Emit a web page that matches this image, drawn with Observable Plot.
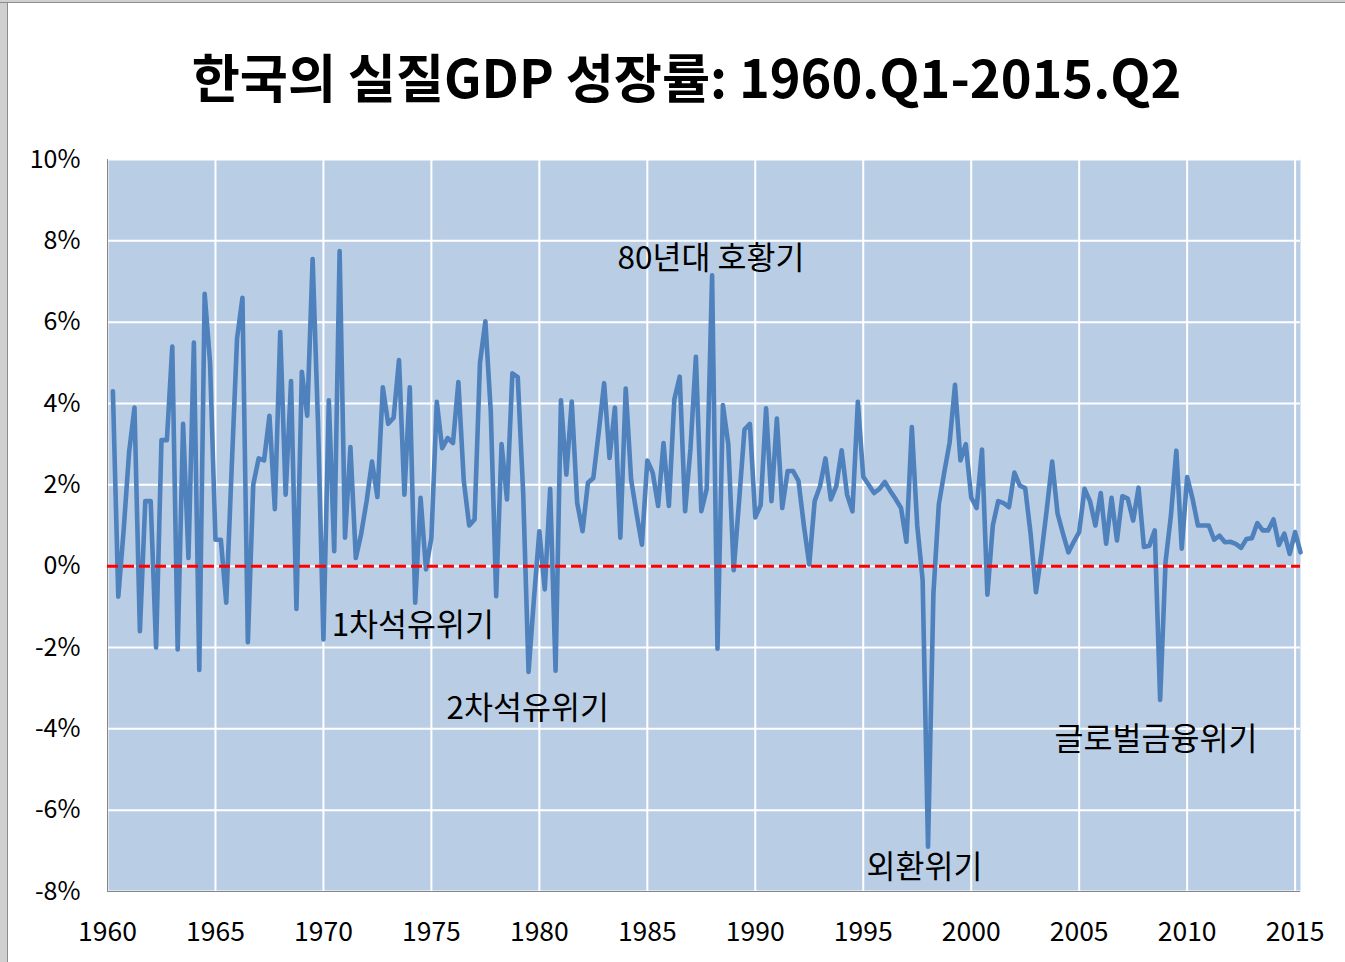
<!DOCTYPE html>
<html>
<head>
<meta charset="utf-8">
<script src="https://cdn.jsdelivr.net/npm/d3@7"></script>
<script src="https://cdn.jsdelivr.net/npm/@observablehq/plot@0.6"></script>
<style>
  html, body { margin: 0; padding: 0; background: #ffffff; }
  #wrap { position: relative; width: 1345px; height: 962px; overflow: hidden; background: #ffffff;
          font-family: "Noto Sans CJK KR", "Noto Sans", sans-serif; }
  #edgeL { position: absolute; left: 0; top: 0; width: 7px; height: 962px; background: #d0d0d0; border-right: 1px solid #8c8c8c; }
  #edgeT { position: absolute; left: 0; top: 0; width: 1345px; height: 2px; background: #d0d0d0; border-bottom: 1px solid #8c8c8c; }
  #title { position: absolute; left: 0; top: 49px; width: 1345px; padding-left: 28px; box-sizing: border-box;
           text-align: center; font-weight: 700; font-size: 52.3px; line-height: 1; color: #000; }
  #chart { position: absolute; left: 0; top: 130px; }
</style>
</head>
<body>
<div id="wrap">
  <div id="edgeL"></div>
  <div id="edgeT"></div>
  <div id="title">한국의 실질GDP 성장률: 1960.Q1-2015.Q2</div>
  <div id="chart"></div>
</div>
<script>
// Quarter-on-quarter real GDP growth (%), read from the reference chart
// 1960.Q2 – 1969.Q4
const g1960s = [4.3, -0.75, 0.9, 2.8, 3.9, -1.6, 1.6, 1.6, -2.0, 3.1, 3.1, 5.4, -2.05, 3.5, 0.2, 5.5, -2.55, 6.7, 5.0,
  0.65, 0.65, -0.9, 2.4, 5.6, 6.6, -1.87, 2.0, 2.65, 2.6, 3.7, 1.4, 5.76, 1.76, 4.55, -1.05, 4.78, 3.7, 7.55, 3.5];
// 1970.Q1 – 1979.Q4
const g1970s = [-1.8, 4.08, 0.37, 7.75, 0.7, 2.93, 0.2, 0.8, 1.6, 2.57, 1.7, 4.4, 3.5, 3.65, 5.07, 1.76, 4.4, -0.9, 1.68, -0.08,
  0.7, 4.04, 2.9, 3.15, 3.03, 4.53, 2.1, 1.0, 1.15, 5.0, 6.02, 3.8, -0.74, 3.0, 1.64, 4.74, 4.65, 1.8, -2.6, -0.8];
// 1980.Q1 – 1989.Q4
const g1980s = [0.86, -0.57, 1.9, -2.57, 4.08, 2.25, 4.05, 1.56, 0.86, 2.05, 2.17, 3.3, 4.5, 2.66, 3.9, 0.7, 4.37, 2.13, 1.3, 0.53,
  2.6, 2.3, 1.48, 3.03, 1.48, 4.1, 4.66, 1.35, 2.9, 5.15, 1.35, 1.9, 7.15, -2.03, 3.96, 3.0, -0.1, 1.6, 3.36, 3.5];
// 1990.Q1 – 1999.Q4
const g1990s = [1.2, 1.5, 3.88, 1.6, 3.63, 1.43, 2.34, 2.34, 2.1, 1.0, 0.04, 1.6, 1.97, 2.65, 1.64, 1.97, 2.85, 1.76, 1.35, 4.04,
  2.2, 2.0, 1.8, 1.9, 2.07, 1.85, 1.65, 1.43, 0.6, 3.42, 1.0, -0.34, -6.9, -0.67, 1.52, 2.3, 3.04, 4.46, 2.6, 3.0];
// 2000.Q1 – 2009.Q4
const g2000s = [1.69, 1.43, 2.87, -0.7, 1.0, 1.6, 1.55, 1.45, 2.3, 1.98, 1.92, 0.8, -0.64, 0.3, 1.4, 2.57, 1.29, 0.8, 0.34, 0.6,
  0.84, 1.9, 1.6, 1.0, 1.8, 0.55, 1.68, 0.63, 1.72, 1.66, 1.12, 1.93, 0.47, 0.5, 0.88, -3.29, 0.1, 1.25, 2.84, 0.43];
// 2010.Q1 – 2015.Q2
const g2010s = [2.19, 1.66, 1.0, 1.0, 1.0, 0.65, 0.75, 0.59, 0.6, 0.55, 0.45, 0.67, 0.69, 1.06, 0.88, 0.88, 1.15, 0.52, 0.8, 0.3,
  0.84, 0.34];

const startYear = 1960;          // series begins with 1960.Q2
const endT = 2015.25;            // 2015.Q2
const yearTicks = [1960, 1965, 1970, 1975, 1980, 1985, 1990, 1995, 2000, 2005, 2010, 2015];
const pctTicks = [-8, -6, -4, -2, 0, 2, 4, 6, 8, 10];

const notes = ["80년대 호황기", "1차석유위기", "2차석유위기", "외환위기", "글로벌금융위기"];
const noteT = [1983.62, 1970.38, 1975.7, 1995.15, 2003.86];
const noteV = [7.56, -1.48, -3.52, -7.43, -4.26];

const growth = [...g1960s, ...g1970s, ...g1980s, ...g1990s, ...g2000s, ...g2010s];
const series = growth.map((v, k) => ({t: startYear + (k + 1) / 4, v}));
const labels = notes.map((s, k) => ({s, t: noteT[k], v: noteV[k]}));

const font = '"Noto Sans CJK KR", "Noto Sans", sans-serif';

const chart = Plot.plot({
  width: 1345,
  height: 832,
  marginLeft: 107,
  marginRight: 45,
  marginTop: 29,
  marginBottom: 71,
  style: {fontFamily: font, background: "transparent", color: "#000", overflow: "visible"},
  x: {domain: [startYear, endT], axis: null},
  y: {domain: [-8, 10], axis: null},
  marks: [
    Plot.frame({fill: "#b9cde5", stroke: null}),
    Plot.gridY(pctTicks, {stroke: "#ffffff", strokeOpacity: 1, strokeWidth: 2}),
    Plot.gridX(yearTicks, {stroke: "#ffffff", strokeOpacity: 1, strokeWidth: 2}),
    Plot.ruleX([startYear], {stroke: "#868686", strokeWidth: 1}),
    Plot.ruleY([-8], {stroke: "#868686", strokeWidth: 1}),
    Plot.line(series, {x: "t", y: "v", stroke: "#4f81bd", strokeWidth: 4.6, strokeLinejoin: "round", strokeLinecap: "round"}),
    Plot.ruleY([0], {stroke: "#ff0000", strokeWidth: 3, strokeDasharray: "11,5"}),
    Plot.text(labels, {x: "t", y: "v", text: "s", textAnchor: "start", lineAnchor: "middle", fontSize: 31.5, fill: "#000"}),
    Plot.axisY(pctTicks, {label: null, tickSize: 0, tickPadding: 27, fontSize: 25, tickFormat: d => `${d}%`}),
    Plot.axisX(yearTicks, {label: null, tickSize: 0, tickPadding: 31, fontSize: 26.5, tickFormat: d => String(d)})
  ]
});
document.getElementById("chart").appendChild(chart);
</script>
</body>
</html>
